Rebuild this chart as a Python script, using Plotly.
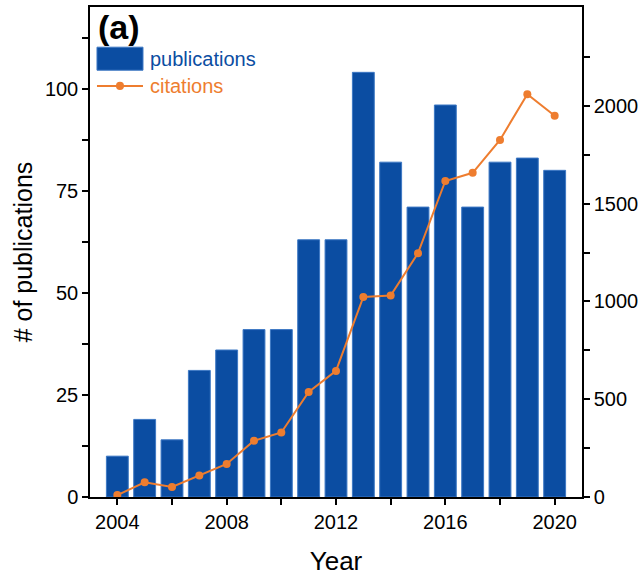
import plotly.graph_objects as go

years = list(range(2004, 2021))
publications = [10, 19, 14, 31, 36, 41, 41, 63, 63, 104, 82, 71, 96, 71, 82, 83, 80]
citations = [10, 75, 51, 110, 169, 288, 330, 537, 645, 1023, 1030, 1247, 1616, 1658, 1826, 2060, 1950]

left_ticks = [0, 25, 50, 75, 100]
right_ticks = [0, 500, 1000, 1500, 2000]
x_ticks = [2004, 2008, 2012, 2016, 2020]

BLUE = "#0B4DA2"
ORANGE = "#EE7D2F"
FONT = "Liberation Sans, Arial, sans-serif"

fig = go.Figure()
fig.add_trace(go.Bar(
    x=years, y=publications, width=0.8,
    marker=dict(color=BLUE, line=dict(color="#3D78C4", width=1)),
    name="publications", yaxis="y", showlegend=False,
))
fig.add_trace(go.Scatter(
    x=years, y=citations, mode="lines+markers",
    line=dict(color=ORANGE, width=2),
    marker=dict(color=ORANGE, size=8),
    name="citations", yaxis="y2", showlegend=False,
))

axis_common = dict(
    showgrid=False, zeroline=False, showline=True, linecolor="black", linewidth=1.5,
    ticks="outside", ticklen=6, tickwidth=1.5, tickcolor="black",
    tickfont=dict(family=FONT, size=20, color="black"),
    automargin=False,
)
minor_common = dict(ticks="outside", ticklen=6, tickwidth=1.5, tickcolor="black")

# Legend (drawn in paper coordinates)
shapes = [
    dict(type="rect", xref="paper", yref="paper", x0=0.0142, x1=0.1077, y0=0.871, y1=0.918,
         fillcolor=BLUE, line=dict(color="#3D78C4", width=1)),
    dict(type="line", xref="paper", yref="paper", x0=0.0142, x1=0.1077, y0=0.839, y1=0.839,
         line=dict(color=ORANGE, width=2)),
    dict(type="circle", xref="paper", yref="paper", x0=0.0528, x1=0.0691, y0=0.8308, y1=0.8472,
         fillcolor=ORANGE, line=dict(color=ORANGE, width=0)),
]
annotations = [
    dict(text="<b>(a)</b>", x=0.012, y=1.003, xref="paper", yref="paper",
         xanchor="left", yanchor="top", showarrow=False,
         font=dict(family=FONT, size=34, color="black")),
    dict(text="publications", x=0.118, y=0.894, xref="paper", yref="paper",
         xanchor="left", yanchor="middle", showarrow=False,
         font=dict(family=FONT, size=20, color=BLUE)),
    dict(text="citations", x=0.118, y=0.839, xref="paper", yref="paper",
         xanchor="left", yanchor="middle", showarrow=False,
         font=dict(family=FONT, size=20, color=ORANGE)),
]

fig.update_layout(
    width=639, height=579,
    margin=dict(l=90, r=57, t=7, b=82, autoexpand=False),
    plot_bgcolor="white", paper_bgcolor="white",
    font=dict(family=FONT, color="black"),
    showlegend=False,
    xaxis=dict(
        range=[2003, 2021], tickvals=x_ticks, ticktext=[str(v) for v in x_ticks],
        minor=dict(tickvals=[2006, 2010, 2014, 2018], **minor_common),
        mirror=True,
        title=dict(text="Year", font=dict(family=FONT, size=26), standoff=20),
        **axis_common,
    ),
    yaxis=dict(
        range=[0, 120], tickvals=left_ticks, ticktext=[str(v) for v in left_ticks],
        minor=dict(tickvals=[12.5, 37.5, 62.5, 87.5, 112.5], **minor_common),
        title=dict(text="# of publications", font=dict(family=FONT, size=25), standoff=5),
        **axis_common,
    ),
    yaxis2=dict(
        range=[0, 2506], overlaying="y", side="right",
        tickvals=right_ticks, ticktext=[str(v) for v in right_ticks],
        minor=dict(tickvals=[250, 750, 1250, 1750, 2250], **minor_common),
        **axis_common,
    ),
    shapes=shapes,
    annotations=annotations,
)

fig.write_html("out.html")
